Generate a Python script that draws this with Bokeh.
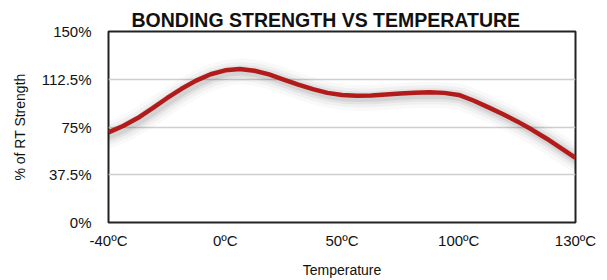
from bokeh.plotting import figure
from bokeh.models import Range1d, FixedTicker, Title
from bokeh.embed import file_html
from bokeh.resources import INLINE

# Category labels on the x axis (evenly spaced categories)
temp_labels = ["-40ºC", "0ºC", "50ºC", "100ºC", "130ºC"]
# Curve read along the category axis (position in category units, % of RT strength)
curve_pos = [0.0, 0.125, 0.25, 0.375, 0.5, 0.625, 0.75, 0.875, 1.0, 1.125, 1.25, 1.375,
             1.5, 1.625, 1.75, 1.875, 2.0, 2.125, 2.25, 2.375, 2.5, 2.625, 2.75, 2.875,
             3.0, 3.125, 3.25, 3.375, 3.5, 3.625, 3.75, 3.875, 4.0]
curve_val = [70.8, 75.8, 82.0, 89.6, 97.6, 105.0, 111.4, 116.4, 119.5, 120.5, 119.2, 116.3,
             112.3, 108.3, 104.7, 101.8, 100.2, 99.6, 99.8, 100.5, 101.3, 101.9, 102.2, 101.8,
             100.2, 95.8, 90.6, 85.2, 79.4, 73.0, 66.0, 58.5, 50.8]
# y ticks
y_ticks = [0, 37.5, 75, 112.5, 150]
y_tick_labels = ["0%", "37.5%", "75%", "112.5%", "150%"]

FONT = "Liberation Sans"

p = figure(width=607, height=280, output_backend="svg", toolbar_location=None,
           x_range=Range1d(0, len(temp_labels) - 1), y_range=Range1d(y_ticks[0], y_ticks[-1]),
           min_border_left=108, min_border_right=32, min_border_top=31, min_border_bottom=54)

p.title = Title(text="BONDING STRENGTH VS TEMPERATURE", align="left", offset=23,
                text_font=FONT, text_font_size="19.5px", text_font_style="bold",
                text_color="#111111", standoff=2)

p.background_fill_color = "white"
p.border_fill_color = "white"
p.outline_line_color = "#222222"
p.outline_line_width = 2

# axes
p.xaxis.ticker = FixedTicker(ticks=list(range(len(temp_labels))))
p.xaxis.major_label_overrides = {i: lab for i, lab in enumerate(temp_labels)}
p.yaxis.ticker = FixedTicker(ticks=y_ticks)
p.yaxis.major_label_overrides = {t: lab for t, lab in zip(y_ticks, y_tick_labels)}
p.xaxis.axis_label = "Temperature"
p.yaxis.axis_label = "% of RT Strength"
for ax in (p.xaxis, p.yaxis):
    ax.axis_line_color = None
    ax.major_tick_line_color = None
    ax.minor_tick_line_color = None
    ax.major_tick_out = 0
    ax.major_tick_in = 0
    ax.minor_tick_out = 0
    ax.minor_tick_in = 0
    ax.major_label_text_font = FONT
    ax.major_label_text_font_size = "15px"
    ax.major_label_text_color = "#111111"
    ax.axis_label_text_font = FONT
    ax.axis_label_text_font_size = "14px"
    ax.axis_label_text_font_style = "normal"
    ax.axis_label_text_color = "#111111"
p.xaxis.major_label_standoff = 9
p.xaxis.axis_label_standoff = 10
p.yaxis.major_label_standoff = 17
p.yaxis.axis_label_standoff = 11

p.xgrid.grid_line_color = None
p.ygrid.grid_line_color = "#cfcfcf"
p.ygrid.grid_line_width = 1.5

# soft drop shadow around the curve
shadow_x = [x + 0.02 for x in curve_pos]
shadow_y = [y - 1.8 for y in curve_val]
for w, a in [(26, 0.025), (19, 0.035), (13, 0.05), (8, 0.07)]:
    p.line(shadow_x, shadow_y, line_color="black", line_alpha=a, line_width=w,
           line_join="round", line_cap="round")

p.line(curve_pos, curve_val, line_color="#B31B1B", line_width=4.5,
       line_join="round", line_cap="butt")

open("out.html", "w").write(file_html(p, INLINE))
